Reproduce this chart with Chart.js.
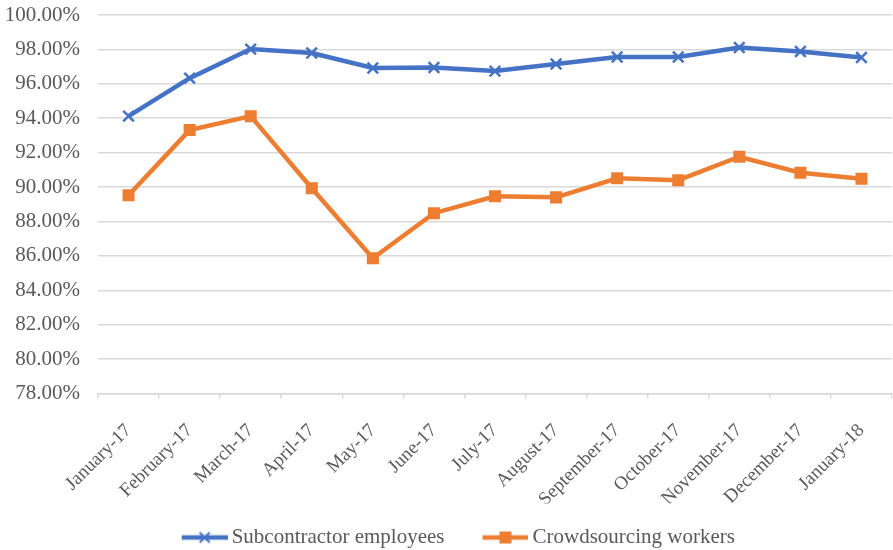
<!DOCTYPE html>
<html>
<head>
<meta charset="utf-8">
<script src="https://cdn.jsdelivr.net/npm/chart.js@4"></script>
<style>
  html, body { margin: 0; padding: 0; background: #fff; overflow: hidden; }
  #wrap { width: 893px; height: 550px; overflow: hidden; }
</style>
</head>
<body>
<div id="wrap"><canvas id="chart" width="902" height="558"></canvas></div>
<script>
// ---- data ----
const months = ['January-17', 'February-17', 'March-17', 'April-17', 'May-17', 'June-17', 'July-17',
    'August-17', 'September-17', 'October-17', 'November-17', 'December-17', 'January-18'];
const subcontractor = [94.12, 96.33, 98.02, 97.79, 96.92, 96.95, 96.74, 97.15, 97.56, 97.56, 98.11, 97.88, 97.53];
const crowdsourcing = [89.52, 93.31, 94.12, 89.93, 85.86, 88.48, 89.46, 89.40, 90.51, 90.40, 91.76, 90.83, 90.48];
const yMin = 78, yMax = 100, yStep = 2;

const BLUE = '#4472C4';
const ORANGE = '#ED7D31';
const GRID = '#d9d9d9';
const TEXT = '#595959';
const FONT = '"Liberation Serif", "Times New Roman", serif';

// legend swatch: line with marker, like the spreadsheet legend.
// transparent margin on the left so the items sit further apart
function legendSwatch(color, kind) {
    const W = 67, off = W - 46;
    const c = document.createElement('canvas');
    c.width = W; c.height = 14;
    const g = c.getContext('2d');
    g.strokeStyle = color; g.fillStyle = color; g.lineWidth = 4.5;
    g.beginPath(); g.moveTo(off, 7); g.lineTo(W, 7); g.stroke();
    if (kind === 'rect') {
        g.fillRect(off + 17, 1, 12, 12);
    } else {
        g.lineWidth = 2;
        g.beginPath();
        g.moveTo(off + 18, 2); g.lineTo(off + 28, 12);
        g.moveTo(off + 28, 2); g.lineTo(off + 18, 12);
        g.stroke();
    }
    return c;
}
const swatches = [legendSwatch(BLUE, 'cross'), legendSwatch(ORANGE, 'rect')];

new Chart(document.getElementById('chart'), {
    type: 'line',
    data: {
        labels: months,
        datasets: [
            {
                label: 'Subcontractor employees', data: subcontractor,
                borderColor: BLUE, backgroundColor: BLUE, borderWidth: 4.5,
                pointStyle: 'crossRot', pointRadius: 7.5, pointBorderWidth: 2.5,
                pointBorderColor: BLUE, tension: 0,
            },
            {
                label: 'Crowdsourcing workers', data: crowdsourcing,
                borderColor: ORANGE, backgroundColor: ORANGE, borderWidth: 4.5,
                pointStyle: 'rect', pointRadius: 8.5, pointBorderWidth: 0,
                tension: 0,
            },
        ],
    },
    options: {
        responsive: false,
        animation: false,
        layout: { padding: 0 },
        scales: {
            x: {
                offset: true,
                grid: { display: true, drawOnChartArea: false, drawTicks: true, tickLength: 5, offset: true, color: GRID, lineWidth: 1.5 },
                border: { display: true, color: GRID, width: 1.5 },
                ticks: {
                    color: TEXT, font: { family: FONT, size: 19 },
                    minRotation: 45, maxRotation: 45, autoSkip: false, padding: 21,
                },
                afterFit: s => { s.height = 110; },
            },
            y: {
                min: yMin, max: yMax,
                grid: { color: GRID, lineWidth: 1.5, drawTicks: false },
                border: { display: false },
                ticks: {
                    stepSize: yStep, color: TEXT, padding: 18,
                    font: { family: FONT, size: 21 },
                    callback: v => v.toFixed(2) + '%',
                },
                afterFit: s => { s.width = 98; s.paddingTop = 15; s.paddingBottom = 0; },
            },
        },
        plugins: {
            tooltip: { enabled: false },
            legend: {
                position: 'bottom',
                labels: {
                    color: TEXT, font: { family: FONT, size: 21 },
                    usePointStyle: true, pointStyleWidth: 54, padding: 23.5,
                    generateLabels: chart => Chart.defaults.plugins.legend.labels.generateLabels(chart)
                        .map((it, i) => Object.assign(it, { pointStyle: swatches[i] })),
                },
            },
        },
    },
});
</script>
</body>
</html>
